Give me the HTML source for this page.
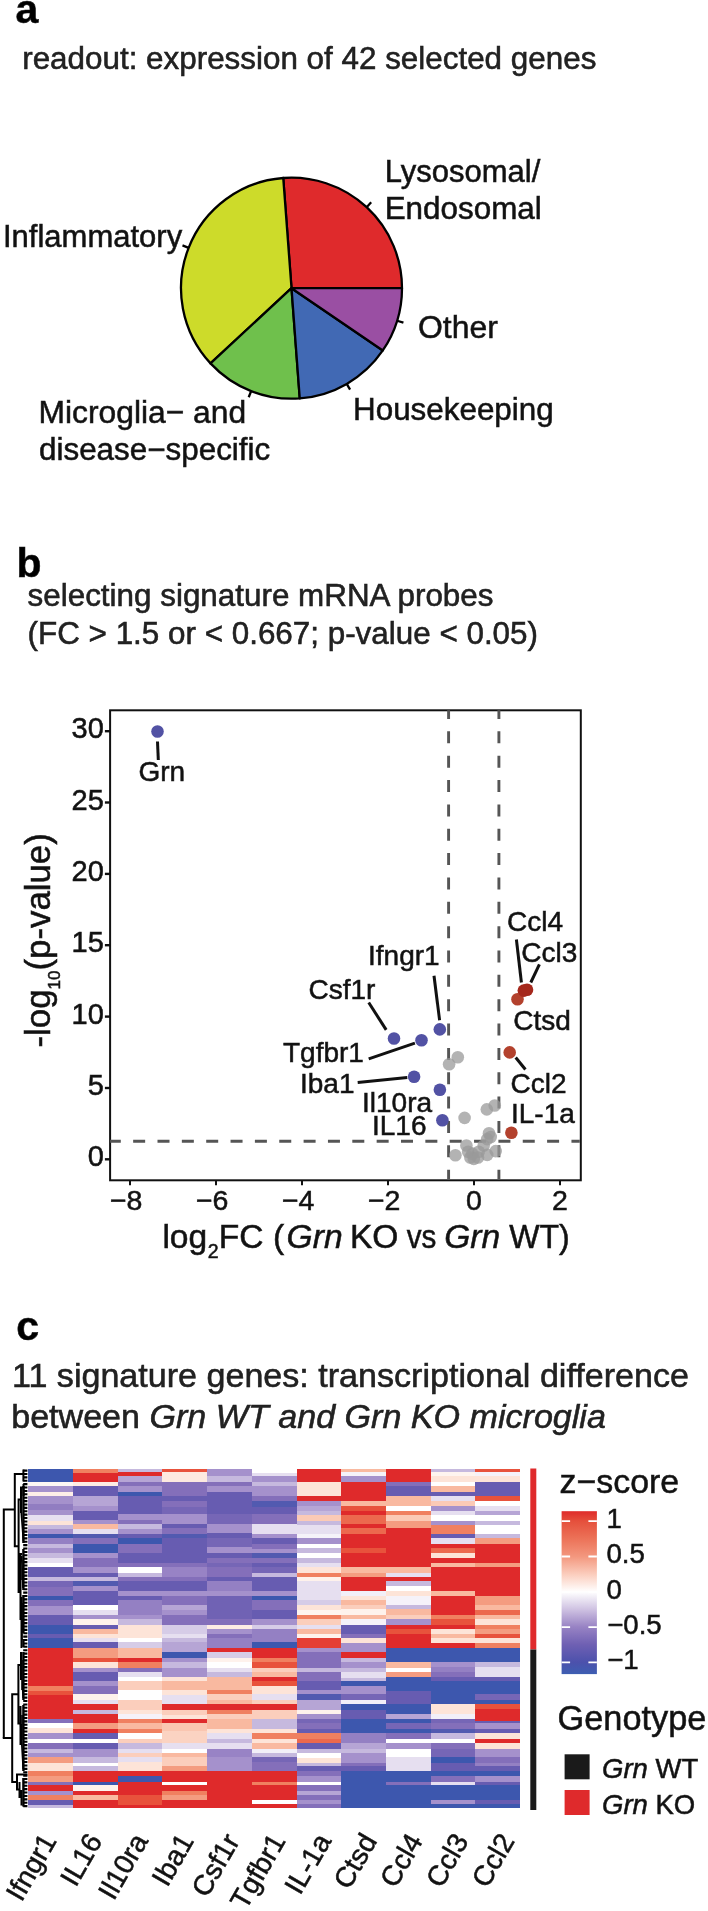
<!DOCTYPE html>
<html><head><meta charset="utf-8"><title>Figure</title>
<style>
html,body{margin:0;padding:0;background:#fff;}
body{width:708px;height:1911px;overflow:hidden;font-family:"Liberation Sans",sans-serif;}
svg{display:block;filter:blur(0.45px);}
svg text{font-family:"Liberation Sans",sans-serif;stroke:#1a1a1a;stroke-width:0.55px;}
</style></head><body>
<svg width="708" height="1911" viewBox="0 0 708 1911">
<rect width="708" height="1911" fill="#fff"/>
<text x="15.5" y="23.3" font-size="41" font-weight="bold" fill="#000" >a</text>
<text x="22.2" y="68.8" font-size="31.4" fill="#222222" >readout: expression of 42 selected genes</text>
<text x="16.5" y="576.5" font-size="41" font-weight="bold" fill="#000" >b</text>
<text x="27.6" y="606.3" font-size="31.4" fill="#222222" >selecting signature mRNA probes</text>
<text x="27.6" y="643.8" font-size="31.4" fill="#222222" >(FC &gt; 1.5 or &lt; 0.667; p-value &lt; 0.05)</text>
<text x="16.3" y="1339.5" font-size="41" font-weight="bold" fill="#000" >c</text>
<text x="12" y="1386.7" font-size="34.1" fill="#222222" >11 signature genes: transcriptional difference</text>
<text x="11.2" y="1428.3" font-size="34.1" fill="#222222" >between <tspan font-style="italic">Grn WT and Grn KO microglia</tspan></text>
<g stroke="#000" stroke-width="2.3" stroke-linejoin="round">
<path d="M291.5,288.2 L402.00,288.20 A110.5,110.5 0 0 0 283.24,178.01 Z" fill="#df2a2c"/>
<path d="M291.5,288.2 L283.24,178.01 A110.5,110.5 0 0 0 210.50,363.36 Z" fill="#cddb2a"/>
<path d="M291.5,288.2 L210.50,363.36 A110.5,110.5 0 0 0 299.76,398.39 Z" fill="#6fc04c"/>
<path d="M291.5,288.2 L299.76,398.39 A110.5,110.5 0 0 0 382.80,350.45 Z" fill="#4169b4"/>
<path d="M291.5,288.2 L382.80,350.45 A110.5,110.5 0 0 0 402.00,288.20 Z" fill="#9a4fa3"/>
<path d="M366.66,207.20 L371.17,202.34" fill="none"/>
<path d="M188.64,247.83 L182.47,245.41" fill="none"/>
<path d="M251.13,391.06 L248.71,397.23" fill="none"/>
<path d="M346.75,383.90 L350.07,389.64" fill="none"/>
<path d="M397.09,320.77 L403.43,322.72" fill="none"/>
</g>
<text x="384.7" y="182.4" font-size="31" fill="#111" >Lysosomal/</text>
<text x="384.7" y="219.2" font-size="31.4" fill="#111" >Endosomal</text>
<text x="3" y="246.6" font-size="31" fill="#111" >Inflammatory</text>
<text x="418" y="338.3" font-size="31.9" fill="#111" >Other</text>
<text x="353" y="419.7" font-size="31.4" fill="#111" >Housekeeping</text>
<text x="38.5" y="423.3" font-size="31.8" fill="#111" >Microglia− and</text>
<text x="39" y="460.2" font-size="31.4" fill="#111" >disease−specific</text>
<rect x="110.1" y="710.3" width="470.69999999999993" height="470.0" fill="#fff" stroke="#111" stroke-width="2"/>
<g stroke="#555555" stroke-width="2.9" stroke-dasharray="12,12.35" fill="none">
<path stroke-dashoffset="3.3" d="M448.6,710.3 V1179.3"/>
<path stroke-dashoffset="3.3" d="M498.9,710.3 V1179.3"/>
<path stroke-dashoffset="1.3" d="M110.1,1141.2 H579.8"/>
</g>
<g stroke="#111" stroke-width="2" fill="none">
<path stroke-width="2.4" d="M104.89999999999999,1159.3 H110.1"/>
<path stroke-width="2.4" d="M104.89999999999999,1088.0 H110.1"/>
<path stroke-width="2.4" d="M104.89999999999999,1016.6 H110.1"/>
<path stroke-width="2.4" d="M104.89999999999999,945.2 H110.1"/>
<path stroke-width="2.4" d="M104.89999999999999,873.9 H110.1"/>
<path stroke-width="2.4" d="M104.89999999999999,802.5 H110.1"/>
<path stroke-width="2.4" d="M104.89999999999999,731.2 H110.1"/>
<path d="M130.0,1180.3 V1185.3"/>
<path d="M216.0,1180.3 V1185.3"/>
<path d="M302.0,1180.3 V1185.3"/>
<path d="M388.0,1180.3 V1185.3"/>
<path d="M474.0,1180.3 V1185.3"/>
<path d="M560.0,1180.3 V1185.3"/>
</g>
<text x="103.8" y="1166.3" font-size="29" text-anchor="end" fill="#111" >0</text>
<text x="103.8" y="1094.95" font-size="29" text-anchor="end" fill="#111" >5</text>
<text x="103.8" y="1023.5999999999999" font-size="29" text-anchor="end" fill="#111" >10</text>
<text x="103.8" y="952.25" font-size="29" text-anchor="end" fill="#111" >15</text>
<text x="103.8" y="880.9" font-size="29" text-anchor="end" fill="#111" >20</text>
<text x="103.8" y="809.55" font-size="29" text-anchor="end" fill="#111" >25</text>
<text x="103.8" y="738.2" font-size="29" text-anchor="end" fill="#111" >30</text>
<text x="126.2" y="1209.8" font-size="28.5" text-anchor="middle" fill="#111" >−8</text>
<text x="212.2" y="1209.8" font-size="28.5" text-anchor="middle" fill="#111" >−6</text>
<text x="298.2" y="1209.8" font-size="28.5" text-anchor="middle" fill="#111" >−4</text>
<text x="384.2" y="1209.8" font-size="28.5" text-anchor="middle" fill="#111" >−2</text>
<text x="474.0" y="1209.8" font-size="28.5" text-anchor="middle" fill="#111" >0</text>
<text x="560.0" y="1209.8" font-size="28.5" text-anchor="middle" fill="#111" >2</text>
<text x="162.4" y="1248" font-size="33.6" fill="#111" >log</text>
<text x="207.8" y="1258.2" font-size="19.5" fill="#111" >2</text>
<text x="218.8" y="1248" font-size="33.6" fill="#111" >FC (</text>
<text x="286.6" y="1248" font-size="33.6" font-style="italic" fill="#111" >Grn</text>
<text x="349.9" y="1248" font-size="33.6" fill="#111" >KO</text>
<text x="406.8" y="1248" font-size="33.6" fill="#111" textLength="29.6" lengthAdjust="spacingAndGlyphs">vs</text>
<text x="444.2" y="1248" font-size="33.6" font-style="italic" fill="#111" >Grn</text>
<text x="509.2" y="1248" font-size="33.6" fill="#111" textLength="60.6" lengthAdjust="spacingAndGlyphs">WT)</text>
<text transform="translate(49.7,1047.5) rotate(-90)" font-size="34.8" fill="#111">-log<tspan font-size="17" dy="10.5">10</tspan><tspan dy="-10.5">(p-value)</tspan></text>
<g fill="#9a9a9a" fill-opacity="0.75">
<circle cx="449.1" cy="1064.2" r="6.3"/>
<circle cx="457.8" cy="1057.3" r="6.3"/>
<circle cx="464.6" cy="1117.9" r="6.3"/>
<circle cx="486.8" cy="1109.4" r="6.3"/>
<circle cx="494.7" cy="1105.5" r="6.3"/>
<circle cx="489" cy="1133.2" r="6.3"/>
<circle cx="487.2" cy="1139.1" r="6.3"/>
<circle cx="483.7" cy="1145.5" r="6.3"/>
<circle cx="466.4" cy="1145.5" r="6.3"/>
<circle cx="455.4" cy="1155.3" r="6.3"/>
<circle cx="495.7" cy="1151.1" r="6.3"/>
<circle cx="487.2" cy="1154.9" r="6.3"/>
<circle cx="478.7" cy="1151.8" r="6.3"/>
<circle cx="472.4" cy="1153.9" r="6.3"/>
<circle cx="468.1" cy="1151.8" r="6.3"/>
<circle cx="473.8" cy="1158.9" r="6.3"/>
<circle cx="470.3" cy="1157.5" r="6.3"/>
<circle cx="478" cy="1157.5" r="6.3"/>
<circle cx="490.7" cy="1137" r="6.3"/>
</g>
<g fill="#5252a4">
<circle cx="157.5" cy="731.5" r="6.3"/>
<circle cx="439.8" cy="1029.4" r="6.3"/>
<circle cx="394" cy="1038.5" r="6.3"/>
<circle cx="421.5" cy="1040.2" r="6.3"/>
<circle cx="414.1" cy="1076.7" r="6.3"/>
<circle cx="439.9" cy="1089.7" r="6.3"/>
<circle cx="442.4" cy="1120.2" r="6.3"/>
</g>
<g fill="#b3412d">
<circle cx="517.5" cy="999.3" r="6.3"/>
<circle cx="509.7" cy="1052.4" r="6.3"/>
<circle cx="511.4" cy="1132.8" r="6.3"/>
</g>
<g fill="#a5281c"><circle cx="523.8" cy="990.6" r="6.3"/><circle cx="527" cy="989.8" r="6.3"/></g>
<g stroke="#111" stroke-width="3" fill="none" stroke-linecap="butt">
<path d="M157.5,741.5 L158.3,760"/>
<path d="M434,975.8 L439.6,1020.3"/>
<path d="M368.7,1002.5 L386.2,1029.9"/>
<path d="M368.7,1058.9 L414.9,1043.1"/>
<path d="M357.7,1082.6 L407.3,1077.5"/>
<path d="M516.4,939.5 L521.4,982.5"/>
<path d="M539.4,964.4 L530.8,982.5"/>
<path d="M515.7,1057.5 L525.4,1069.5"/>
</g>
<text x="138.5" y="780.7" font-size="28" fill="#111" >Grn</text>
<text x="368" y="964.8" font-size="28" fill="#111" >Ifngr1</text>
<text x="308.5" y="998.8" font-size="28" fill="#111" >Csf1r</text>
<text x="283" y="1061.7" font-size="28" fill="#111" >Tgfbr1</text>
<text x="300" y="1093" font-size="28" fill="#111" >Iba1</text>
<text x="362" y="1112" font-size="28" fill="#111" >Il10ra</text>
<text x="372" y="1135" font-size="28" fill="#111" >IL16</text>
<text x="507.1" y="931.4" font-size="28" fill="#111" >Ccl4</text>
<text x="521.2" y="962.3" font-size="28" fill="#111" >Ccl3</text>
<text x="513.2" y="1029.7" font-size="28" fill="#111" >Ctsd</text>
<text x="510.5" y="1093" font-size="28" fill="#111" >Ccl2</text>
<text x="511" y="1122.8" font-size="28" fill="#111" >IL-1a</text>
<g shape-rendering="crispEdges">
<rect x="28.30" y="1468.94" width="45.10" height="13.65" fill="#3d57ae"/>
<rect x="28.30" y="1482.19" width="45.10" height="3.96" fill="#fef7f3"/>
<rect x="28.30" y="1485.75" width="45.10" height="6.33" fill="#a591cc"/>
<rect x="28.30" y="1491.68" width="45.10" height="4.35" fill="#feefe8"/>
<rect x="28.30" y="1495.64" width="45.10" height="8.31" fill="#a591cc"/>
<rect x="28.30" y="1503.55" width="45.10" height="7.32" fill="#917dc1"/>
<rect x="28.30" y="1510.47" width="45.10" height="4.95" fill="#a591cc"/>
<rect x="28.30" y="1515.02" width="45.10" height="6.33" fill="#e6dff0"/>
<rect x="28.30" y="1520.95" width="45.10" height="4.35" fill="#fde4d8"/>
<rect x="28.30" y="1524.90" width="45.10" height="4.75" fill="#c6b9de"/>
<rect x="28.30" y="1529.25" width="45.10" height="5.34" fill="#a591cc"/>
<rect x="28.30" y="1534.20" width="45.10" height="4.35" fill="#3d57ae"/>
<rect x="28.30" y="1538.15" width="45.10" height="6.33" fill="#9480c3"/>
<rect x="28.30" y="1544.08" width="45.10" height="4.35" fill="#c6b9de"/>
<rect x="28.30" y="1548.04" width="45.10" height="1.36" fill="#a591cc"/>
<rect x="28.30" y="1549.00" width="45.10" height="4.75" fill="#a591cc"/>
<rect x="28.30" y="1553.35" width="45.10" height="4.95" fill="#c6b9de"/>
<rect x="28.30" y="1557.90" width="45.10" height="5.34" fill="#e6dff0"/>
<rect x="28.30" y="1562.84" width="45.10" height="4.75" fill="#ffffff"/>
<rect x="28.30" y="1567.19" width="45.10" height="9.89" fill="#675cb1"/>
<rect x="28.30" y="1576.68" width="45.10" height="4.35" fill="#c6b9de"/>
<rect x="28.30" y="1580.64" width="45.10" height="6.33" fill="#7666b6"/>
<rect x="28.30" y="1586.57" width="45.10" height="9.89" fill="#846fba"/>
<rect x="28.30" y="1596.06" width="45.10" height="4.35" fill="#3d57ae"/>
<rect x="28.30" y="1600.02" width="45.10" height="6.33" fill="#846fba"/>
<rect x="28.30" y="1605.95" width="45.10" height="9.69" fill="#a591cc"/>
<rect x="28.30" y="1615.24" width="45.10" height="10.29" fill="#675cb1"/>
<rect x="28.30" y="1625.13" width="45.10" height="9.27" fill="#3d57ae"/>
<rect x="28.30" y="1634.00" width="45.10" height="4.75" fill="#675cb1"/>
<rect x="28.30" y="1638.35" width="45.10" height="9.89" fill="#3d57ae"/>
<rect x="28.30" y="1647.84" width="45.10" height="38.96" fill="#df2a2b"/>
<rect x="28.30" y="1686.40" width="45.10" height="4.95" fill="#f08060"/>
<rect x="28.30" y="1690.95" width="45.10" height="4.35" fill="#e8523c"/>
<rect x="28.30" y="1694.90" width="45.10" height="24.50" fill="#df2a2b"/>
<rect x="28.30" y="1719.00" width="45.10" height="4.75" fill="#846fba"/>
<rect x="28.30" y="1723.35" width="45.10" height="4.95" fill="#ffffff"/>
<rect x="28.30" y="1727.90" width="45.10" height="5.34" fill="#fde4d8"/>
<rect x="28.30" y="1732.84" width="45.10" height="6.33" fill="#a591cc"/>
<rect x="28.30" y="1738.77" width="45.10" height="4.75" fill="#ffffff"/>
<rect x="28.30" y="1743.12" width="45.10" height="5.94" fill="#846fba"/>
<rect x="28.30" y="1748.66" width="45.10" height="4.35" fill="#c6b9de"/>
<rect x="28.30" y="1752.62" width="45.10" height="4.35" fill="#a591cc"/>
<rect x="28.30" y="1756.57" width="45.10" height="6.33" fill="#f49c80"/>
<rect x="28.30" y="1762.50" width="45.10" height="9.30" fill="#fde4d8"/>
<rect x="28.30" y="1771.40" width="45.10" height="5.34" fill="#f08060"/>
<rect x="28.30" y="1776.34" width="45.10" height="5.94" fill="#f49c80"/>
<rect x="28.30" y="1781.88" width="45.10" height="3.76" fill="#846fba"/>
<rect x="28.30" y="1785.24" width="45.10" height="6.33" fill="#df2a2b"/>
<rect x="28.30" y="1791.18" width="45.10" height="4.35" fill="#a591cc"/>
<rect x="28.30" y="1795.13" width="45.10" height="5.74" fill="#f08060"/>
<rect x="28.30" y="1800.47" width="45.10" height="4.95" fill="#675cb1"/>
<rect x="28.30" y="1805.02" width="45.10" height="3.18" fill="#c6b9de"/>
<rect x="73.00" y="1468.94" width="45.10" height="4.35" fill="#f08060"/>
<rect x="73.00" y="1472.90" width="45.10" height="9.69" fill="#df2a2b"/>
<rect x="73.00" y="1482.19" width="45.10" height="3.96" fill="#feece4"/>
<rect x="73.00" y="1485.75" width="45.10" height="10.29" fill="#675cb1"/>
<rect x="73.00" y="1495.64" width="45.10" height="10.29" fill="#b6a5d5"/>
<rect x="73.00" y="1505.53" width="45.10" height="6.33" fill="#a591cc"/>
<rect x="73.00" y="1511.46" width="45.10" height="9.30" fill="#675cb1"/>
<rect x="73.00" y="1520.36" width="45.10" height="4.35" fill="#a591cc"/>
<rect x="73.00" y="1524.31" width="45.10" height="4.95" fill="#f9b9a0"/>
<rect x="73.00" y="1528.86" width="45.10" height="5.74" fill="#e6dff0"/>
<rect x="73.00" y="1534.20" width="45.10" height="4.35" fill="#525ab0"/>
<rect x="73.00" y="1538.15" width="45.10" height="6.33" fill="#846fba"/>
<rect x="73.00" y="1544.08" width="45.10" height="5.32" fill="#3d57ae"/>
<rect x="73.00" y="1549.00" width="45.10" height="4.75" fill="#3d57ae"/>
<rect x="73.00" y="1553.35" width="45.10" height="4.95" fill="#a591cc"/>
<rect x="73.00" y="1557.90" width="45.10" height="9.69" fill="#846fba"/>
<rect x="73.00" y="1567.19" width="45.10" height="5.94" fill="#a591cc"/>
<rect x="73.00" y="1572.73" width="45.10" height="4.35" fill="#675cb1"/>
<rect x="73.00" y="1576.68" width="45.10" height="4.35" fill="#c6b9de"/>
<rect x="73.00" y="1580.64" width="45.10" height="5.94" fill="#525ab0"/>
<rect x="73.00" y="1586.18" width="45.10" height="4.75" fill="#a591cc"/>
<rect x="73.00" y="1590.53" width="45.10" height="15.23" fill="#675cb1"/>
<rect x="73.00" y="1605.36" width="45.10" height="5.34" fill="#ffffff"/>
<rect x="73.00" y="1610.30" width="45.10" height="5.34" fill="#e6dff0"/>
<rect x="73.00" y="1615.24" width="45.10" height="4.35" fill="#a591cc"/>
<rect x="73.00" y="1619.20" width="45.10" height="6.33" fill="#fef2ec"/>
<rect x="73.00" y="1625.13" width="45.10" height="4.35" fill="#675cb1"/>
<rect x="73.00" y="1629.08" width="45.10" height="5.32" fill="#f9b9a0"/>
<rect x="73.00" y="1634.00" width="45.10" height="3.96" fill="#fde4d8"/>
<rect x="73.00" y="1637.56" width="45.10" height="5.15" fill="#e6dff0"/>
<rect x="73.00" y="1642.31" width="45.10" height="5.94" fill="#675cb1"/>
<rect x="73.00" y="1647.84" width="45.10" height="10.29" fill="#f49c80"/>
<rect x="73.00" y="1657.73" width="45.10" height="4.35" fill="#e8523c"/>
<rect x="73.00" y="1661.68" width="45.10" height="6.33" fill="#fde4d8"/>
<rect x="73.00" y="1667.62" width="45.10" height="4.35" fill="#a591cc"/>
<rect x="73.00" y="1671.57" width="45.10" height="9.89" fill="#675cb1"/>
<rect x="73.00" y="1681.06" width="45.10" height="5.74" fill="#a591cc"/>
<rect x="73.00" y="1686.40" width="45.10" height="8.31" fill="#846fba"/>
<rect x="73.00" y="1694.31" width="45.10" height="6.33" fill="#fef2ec"/>
<rect x="73.00" y="1700.24" width="45.10" height="4.35" fill="#e6dff0"/>
<rect x="73.00" y="1704.20" width="45.10" height="6.33" fill="#df2a2b"/>
<rect x="73.00" y="1710.13" width="45.10" height="4.35" fill="#c6b9de"/>
<rect x="73.00" y="1714.08" width="45.10" height="5.32" fill="#df2a2b"/>
<rect x="73.00" y="1719.00" width="45.10" height="4.75" fill="#df2a2b"/>
<rect x="73.00" y="1723.35" width="45.10" height="6.33" fill="#f49c80"/>
<rect x="73.00" y="1729.28" width="45.10" height="4.35" fill="#df2a2b"/>
<rect x="73.00" y="1733.24" width="45.10" height="5.94" fill="#675cb1"/>
<rect x="73.00" y="1738.77" width="45.10" height="4.75" fill="#ffffff"/>
<rect x="73.00" y="1743.12" width="45.10" height="5.94" fill="#675cb1"/>
<rect x="73.00" y="1748.66" width="45.10" height="8.31" fill="#a591cc"/>
<rect x="73.00" y="1756.57" width="45.10" height="6.33" fill="#c6b9de"/>
<rect x="73.00" y="1762.50" width="45.10" height="4.35" fill="#ffffff"/>
<rect x="73.00" y="1766.46" width="45.10" height="5.34" fill="#c6b9de"/>
<rect x="73.00" y="1771.40" width="45.10" height="10.88" fill="#df2a2b"/>
<rect x="73.00" y="1781.88" width="45.10" height="3.76" fill="#3d57ae"/>
<rect x="73.00" y="1785.24" width="45.10" height="6.33" fill="#fef2ec"/>
<rect x="73.00" y="1791.18" width="45.10" height="4.35" fill="#df2a2b"/>
<rect x="73.00" y="1795.13" width="45.10" height="5.74" fill="#f9b9a0"/>
<rect x="73.00" y="1800.47" width="45.10" height="7.73" fill="#df2a2b"/>
<rect x="117.70" y="1468.94" width="45.10" height="3.76" fill="#c6b9de"/>
<rect x="117.70" y="1472.31" width="45.10" height="3.96" fill="#df2a2b"/>
<rect x="117.70" y="1475.86" width="45.10" height="6.73" fill="#b6a5d5"/>
<rect x="117.70" y="1482.19" width="45.10" height="3.96" fill="#846fba"/>
<rect x="117.70" y="1485.75" width="45.10" height="6.33" fill="#a591cc"/>
<rect x="117.70" y="1491.68" width="45.10" height="4.35" fill="#3d57ae"/>
<rect x="117.70" y="1495.64" width="45.10" height="19.19" fill="#675cb1"/>
<rect x="117.70" y="1514.42" width="45.10" height="6.33" fill="#a591cc"/>
<rect x="117.70" y="1520.36" width="45.10" height="4.35" fill="#846fba"/>
<rect x="117.70" y="1524.31" width="45.10" height="5.34" fill="#c6b9de"/>
<rect x="117.70" y="1529.25" width="45.10" height="5.34" fill="#a591cc"/>
<rect x="117.70" y="1534.20" width="45.10" height="4.35" fill="#675cb1"/>
<rect x="117.70" y="1538.15" width="45.10" height="6.33" fill="#3d57ae"/>
<rect x="117.70" y="1544.08" width="45.10" height="5.32" fill="#846fba"/>
<rect x="117.70" y="1549.00" width="45.10" height="4.75" fill="#846fba"/>
<rect x="117.70" y="1553.35" width="45.10" height="9.89" fill="#675cb1"/>
<rect x="117.70" y="1562.84" width="45.10" height="4.75" fill="#846fba"/>
<rect x="117.70" y="1567.19" width="45.10" height="5.94" fill="#ffffff"/>
<rect x="117.70" y="1572.73" width="45.10" height="4.35" fill="#c6b9de"/>
<rect x="117.70" y="1576.68" width="45.10" height="4.35" fill="#846fba"/>
<rect x="117.70" y="1580.64" width="45.10" height="10.29" fill="#675cb1"/>
<rect x="117.70" y="1590.53" width="45.10" height="6.33" fill="#a591cc"/>
<rect x="117.70" y="1596.46" width="45.10" height="3.96" fill="#675cb1"/>
<rect x="117.70" y="1600.02" width="45.10" height="6.33" fill="#9480c3"/>
<rect x="117.70" y="1605.95" width="45.10" height="9.69" fill="#9480c3"/>
<rect x="117.70" y="1615.24" width="45.10" height="4.35" fill="#a591cc"/>
<rect x="117.70" y="1619.20" width="45.10" height="6.33" fill="#c6b9de"/>
<rect x="117.70" y="1625.13" width="45.10" height="9.27" fill="#fde4d8"/>
<rect x="117.70" y="1634.00" width="45.10" height="3.96" fill="#fde4d8"/>
<rect x="117.70" y="1637.56" width="45.10" height="5.15" fill="#ffffff"/>
<rect x="117.70" y="1642.31" width="45.10" height="5.94" fill="#d6cce7"/>
<rect x="117.70" y="1647.84" width="45.10" height="10.29" fill="#f9b9a0"/>
<rect x="117.70" y="1657.73" width="45.10" height="4.35" fill="#df2a2b"/>
<rect x="117.70" y="1661.68" width="45.10" height="6.33" fill="#f08060"/>
<rect x="117.70" y="1667.62" width="45.10" height="4.35" fill="#846fba"/>
<rect x="117.70" y="1671.57" width="45.10" height="5.34" fill="#e6dff0"/>
<rect x="117.70" y="1676.51" width="45.10" height="4.95" fill="#ffffff"/>
<rect x="117.70" y="1681.06" width="45.10" height="9.69" fill="#fbcebc"/>
<rect x="117.70" y="1690.36" width="45.10" height="10.29" fill="#ffffff"/>
<rect x="117.70" y="1700.24" width="45.10" height="10.29" fill="#fbcebc"/>
<rect x="117.70" y="1710.13" width="45.10" height="4.35" fill="#fde4d8"/>
<rect x="117.70" y="1714.08" width="45.10" height="5.32" fill="#f5f2f9"/>
<rect x="117.70" y="1719.00" width="45.10" height="4.75" fill="#f08060"/>
<rect x="117.70" y="1723.35" width="45.10" height="5.94" fill="#f9b9a0"/>
<rect x="117.70" y="1728.89" width="45.10" height="4.75" fill="#f08060"/>
<rect x="117.70" y="1733.24" width="45.10" height="5.94" fill="#ffffff"/>
<rect x="117.70" y="1738.77" width="45.10" height="4.75" fill="#fbcebc"/>
<rect x="117.70" y="1743.12" width="45.10" height="5.94" fill="#c6b9de"/>
<rect x="117.70" y="1748.66" width="45.10" height="4.35" fill="#e6dff0"/>
<rect x="117.70" y="1752.62" width="45.10" height="4.35" fill="#fbcebc"/>
<rect x="117.70" y="1756.57" width="45.10" height="5.34" fill="#e6dff0"/>
<rect x="117.70" y="1761.51" width="45.10" height="10.29" fill="#fde4d8"/>
<rect x="117.70" y="1771.40" width="45.10" height="5.34" fill="#df2a2b"/>
<rect x="117.70" y="1776.34" width="45.10" height="5.94" fill="#3d57ae"/>
<rect x="117.70" y="1781.88" width="45.10" height="13.65" fill="#df2a2b"/>
<rect x="117.70" y="1795.13" width="45.10" height="10.29" fill="#e8523c"/>
<rect x="117.70" y="1805.02" width="45.10" height="3.18" fill="#df2a2b"/>
<rect x="162.40" y="1468.94" width="45.10" height="3.76" fill="#e8523c"/>
<rect x="162.40" y="1472.31" width="45.10" height="10.29" fill="#fde9e0"/>
<rect x="162.40" y="1482.19" width="45.10" height="13.85" fill="#846fba"/>
<rect x="162.40" y="1495.64" width="45.10" height="5.34" fill="#675cb1"/>
<rect x="162.40" y="1500.58" width="45.10" height="6.33" fill="#846fba"/>
<rect x="162.40" y="1506.51" width="45.10" height="8.31" fill="#7666b6"/>
<rect x="162.40" y="1514.42" width="45.10" height="10.29" fill="#a591cc"/>
<rect x="162.40" y="1524.31" width="45.10" height="4.35" fill="#675cb1"/>
<rect x="162.40" y="1528.27" width="45.10" height="6.33" fill="#846fba"/>
<rect x="162.40" y="1534.20" width="45.10" height="4.35" fill="#525ab0"/>
<rect x="162.40" y="1538.15" width="45.10" height="11.25" fill="#675cb1"/>
<rect x="162.40" y="1549.00" width="45.10" height="14.24" fill="#675cb1"/>
<rect x="162.40" y="1562.84" width="45.10" height="4.75" fill="#846fba"/>
<rect x="162.40" y="1567.19" width="45.10" height="9.89" fill="#9883c5"/>
<rect x="162.40" y="1576.68" width="45.10" height="4.35" fill="#846fba"/>
<rect x="162.40" y="1580.64" width="45.10" height="10.29" fill="#675cb1"/>
<rect x="162.40" y="1590.53" width="45.10" height="6.33" fill="#a591cc"/>
<rect x="162.40" y="1596.46" width="45.10" height="9.30" fill="#846fba"/>
<rect x="162.40" y="1605.36" width="45.10" height="5.34" fill="#b6a5d5"/>
<rect x="162.40" y="1610.30" width="45.10" height="5.34" fill="#a591cc"/>
<rect x="162.40" y="1615.24" width="45.10" height="10.29" fill="#846fba"/>
<rect x="162.40" y="1625.13" width="45.10" height="9.27" fill="#d6cce7"/>
<rect x="162.40" y="1634.00" width="45.10" height="4.75" fill="#e6dff0"/>
<rect x="162.40" y="1638.35" width="45.10" height="4.35" fill="#c6b9de"/>
<rect x="162.40" y="1642.31" width="45.10" height="9.89" fill="#b6a5d5"/>
<rect x="162.40" y="1651.80" width="45.10" height="6.33" fill="#3d57ae"/>
<rect x="162.40" y="1657.73" width="45.10" height="4.35" fill="#a591cc"/>
<rect x="162.40" y="1661.68" width="45.10" height="6.33" fill="#c6b9de"/>
<rect x="162.40" y="1667.62" width="45.10" height="9.30" fill="#a591cc"/>
<rect x="162.40" y="1676.51" width="45.10" height="5.34" fill="#fde4d8"/>
<rect x="162.40" y="1681.46" width="45.10" height="9.30" fill="#f9b9a0"/>
<rect x="162.40" y="1690.36" width="45.10" height="5.34" fill="#fde4d8"/>
<rect x="162.40" y="1695.30" width="45.10" height="9.30" fill="#e6dff0"/>
<rect x="162.40" y="1704.20" width="45.10" height="6.33" fill="#df2a2b"/>
<rect x="162.40" y="1710.13" width="45.10" height="5.34" fill="#fbcebc"/>
<rect x="162.40" y="1715.07" width="45.10" height="4.33" fill="#fde4d8"/>
<rect x="162.40" y="1719.00" width="45.10" height="4.75" fill="#df2a2b"/>
<rect x="162.40" y="1723.35" width="45.10" height="7.91" fill="#fac6b1"/>
<rect x="162.40" y="1730.86" width="45.10" height="12.26" fill="#fbd3c2"/>
<rect x="162.40" y="1742.73" width="45.10" height="6.33" fill="#e6dff0"/>
<rect x="162.40" y="1748.66" width="45.10" height="4.35" fill="#ffffff"/>
<rect x="162.40" y="1752.62" width="45.10" height="4.35" fill="#f9b9a0"/>
<rect x="162.40" y="1756.57" width="45.10" height="10.29" fill="#fbcebc"/>
<rect x="162.40" y="1766.46" width="45.10" height="5.34" fill="#f49c80"/>
<rect x="162.40" y="1771.40" width="45.10" height="10.88" fill="#df2a2b"/>
<rect x="162.40" y="1781.88" width="45.10" height="3.76" fill="#ffffff"/>
<rect x="162.40" y="1785.24" width="45.10" height="6.33" fill="#df2a2b"/>
<rect x="162.40" y="1791.18" width="45.10" height="4.35" fill="#f08060"/>
<rect x="162.40" y="1795.13" width="45.10" height="5.74" fill="#f49c80"/>
<rect x="162.40" y="1800.47" width="45.10" height="7.73" fill="#df2a2b"/>
<rect x="207.10" y="1468.94" width="45.10" height="7.32" fill="#a591cc"/>
<rect x="207.10" y="1475.86" width="45.10" height="6.73" fill="#c6b9de"/>
<rect x="207.10" y="1482.19" width="45.10" height="3.96" fill="#846fba"/>
<rect x="207.10" y="1485.75" width="45.10" height="6.33" fill="#a591cc"/>
<rect x="207.10" y="1491.68" width="45.10" height="4.35" fill="#675cb1"/>
<rect x="207.10" y="1495.64" width="45.10" height="19.19" fill="#675cb1"/>
<rect x="207.10" y="1514.42" width="45.10" height="10.29" fill="#7666b6"/>
<rect x="207.10" y="1524.31" width="45.10" height="9.30" fill="#a591cc"/>
<rect x="207.10" y="1533.21" width="45.10" height="5.34" fill="#675cb1"/>
<rect x="207.10" y="1538.15" width="45.10" height="9.30" fill="#7666b6"/>
<rect x="207.10" y="1547.05" width="45.10" height="2.35" fill="#a591cc"/>
<rect x="207.10" y="1549.00" width="45.10" height="4.75" fill="#a591cc"/>
<rect x="207.10" y="1553.35" width="45.10" height="4.95" fill="#675cb1"/>
<rect x="207.10" y="1557.90" width="45.10" height="5.34" fill="#846fba"/>
<rect x="207.10" y="1562.84" width="45.10" height="4.75" fill="#7666b6"/>
<rect x="207.10" y="1567.19" width="45.10" height="9.89" fill="#846fba"/>
<rect x="207.10" y="1576.68" width="45.10" height="4.35" fill="#675cb1"/>
<rect x="207.10" y="1580.64" width="45.10" height="10.29" fill="#9480c3"/>
<rect x="207.10" y="1590.53" width="45.10" height="6.33" fill="#a591cc"/>
<rect x="207.10" y="1596.46" width="45.10" height="23.14" fill="#7062b4"/>
<rect x="207.10" y="1619.20" width="45.10" height="6.33" fill="#846fba"/>
<rect x="207.10" y="1625.13" width="45.10" height="4.35" fill="#feece4"/>
<rect x="207.10" y="1629.08" width="45.10" height="5.32" fill="#a591cc"/>
<rect x="207.10" y="1634.00" width="45.10" height="4.75" fill="#846fba"/>
<rect x="207.10" y="1638.35" width="45.10" height="9.89" fill="#9480c3"/>
<rect x="207.10" y="1647.84" width="45.10" height="4.35" fill="#df2a2b"/>
<rect x="207.10" y="1651.80" width="45.10" height="6.33" fill="#d6cce7"/>
<rect x="207.10" y="1657.73" width="45.10" height="4.35" fill="#fef2ec"/>
<rect x="207.10" y="1661.68" width="45.10" height="6.33" fill="#ffffff"/>
<rect x="207.10" y="1667.62" width="45.10" height="4.35" fill="#e6dff0"/>
<rect x="207.10" y="1671.57" width="45.10" height="5.34" fill="#c6b9de"/>
<rect x="207.10" y="1676.51" width="45.10" height="14.24" fill="#f9b9a0"/>
<rect x="207.10" y="1690.36" width="45.10" height="4.35" fill="#f08060"/>
<rect x="207.10" y="1694.31" width="45.10" height="6.33" fill="#fbcebc"/>
<rect x="207.10" y="1700.24" width="45.10" height="4.35" fill="#f9b9a0"/>
<rect x="207.10" y="1704.20" width="45.10" height="6.33" fill="#df2a2b"/>
<rect x="207.10" y="1710.13" width="45.10" height="4.35" fill="#f08060"/>
<rect x="207.10" y="1714.08" width="45.10" height="5.32" fill="#fbcebc"/>
<rect x="207.10" y="1719.00" width="45.10" height="4.75" fill="#f9b9a0"/>
<rect x="207.10" y="1723.35" width="45.10" height="5.94" fill="#f9b9a0"/>
<rect x="207.10" y="1728.89" width="45.10" height="4.75" fill="#fde4d8"/>
<rect x="207.10" y="1733.24" width="45.10" height="5.94" fill="#e6dff0"/>
<rect x="207.10" y="1738.77" width="45.10" height="4.75" fill="#c6b9de"/>
<rect x="207.10" y="1743.12" width="45.10" height="5.94" fill="#e6dff0"/>
<rect x="207.10" y="1748.66" width="45.10" height="8.31" fill="#9883c5"/>
<rect x="207.10" y="1756.57" width="45.10" height="5.34" fill="#a591cc"/>
<rect x="207.10" y="1761.51" width="45.10" height="10.29" fill="#a591cc"/>
<rect x="207.10" y="1771.40" width="45.10" height="36.80" fill="#df2a2b"/>
<rect x="251.80" y="1468.94" width="45.10" height="4.35" fill="#ffffff"/>
<rect x="251.80" y="1472.90" width="45.10" height="3.37" fill="#e6dff0"/>
<rect x="251.80" y="1475.86" width="45.10" height="6.73" fill="#a591cc"/>
<rect x="251.80" y="1482.19" width="45.10" height="3.96" fill="#c6b9de"/>
<rect x="251.80" y="1485.75" width="45.10" height="10.29" fill="#a591cc"/>
<rect x="251.80" y="1495.64" width="45.10" height="5.34" fill="#846fba"/>
<rect x="251.80" y="1500.58" width="45.10" height="6.33" fill="#525ab0"/>
<rect x="251.80" y="1506.51" width="45.10" height="8.31" fill="#675cb1"/>
<rect x="251.80" y="1514.42" width="45.10" height="10.29" fill="#846fba"/>
<rect x="251.80" y="1524.31" width="45.10" height="10.29" fill="#e6dff0"/>
<rect x="251.80" y="1534.20" width="45.10" height="4.35" fill="#a591cc"/>
<rect x="251.80" y="1538.15" width="45.10" height="6.33" fill="#675cb1"/>
<rect x="251.80" y="1544.08" width="45.10" height="5.32" fill="#846fba"/>
<rect x="251.80" y="1549.00" width="45.10" height="4.75" fill="#a591cc"/>
<rect x="251.80" y="1553.35" width="45.10" height="4.95" fill="#525ab0"/>
<rect x="251.80" y="1557.90" width="45.10" height="5.34" fill="#846fba"/>
<rect x="251.80" y="1562.84" width="45.10" height="4.75" fill="#675cb1"/>
<rect x="251.80" y="1567.19" width="45.10" height="5.94" fill="#7666b6"/>
<rect x="251.80" y="1572.73" width="45.10" height="4.35" fill="#c6b9de"/>
<rect x="251.80" y="1576.68" width="45.10" height="14.24" fill="#675cb1"/>
<rect x="251.80" y="1590.53" width="45.10" height="6.33" fill="#a591cc"/>
<rect x="251.80" y="1596.46" width="45.10" height="3.96" fill="#3d57ae"/>
<rect x="251.80" y="1600.02" width="45.10" height="10.68" fill="#846fba"/>
<rect x="251.80" y="1610.30" width="45.10" height="9.30" fill="#675cb1"/>
<rect x="251.80" y="1619.20" width="45.10" height="6.33" fill="#a591cc"/>
<rect x="251.80" y="1625.13" width="45.10" height="4.35" fill="#d6cce7"/>
<rect x="251.80" y="1629.08" width="45.10" height="5.32" fill="#9480c3"/>
<rect x="251.80" y="1634.00" width="45.10" height="8.71" fill="#9480c3"/>
<rect x="251.80" y="1642.31" width="45.10" height="5.94" fill="#3d57ae"/>
<rect x="251.80" y="1647.84" width="45.10" height="10.29" fill="#df2a2b"/>
<rect x="251.80" y="1657.73" width="45.10" height="4.35" fill="#f08060"/>
<rect x="251.80" y="1661.68" width="45.10" height="6.33" fill="#e8523c"/>
<rect x="251.80" y="1667.62" width="45.10" height="4.35" fill="#fbcebc"/>
<rect x="251.80" y="1671.57" width="45.10" height="5.34" fill="#f9b9a0"/>
<rect x="251.80" y="1676.51" width="45.10" height="5.34" fill="#df2a2b"/>
<rect x="251.80" y="1681.46" width="45.10" height="5.34" fill="#e8523c"/>
<rect x="251.80" y="1686.40" width="45.10" height="8.31" fill="#fde4d8"/>
<rect x="251.80" y="1694.31" width="45.10" height="6.33" fill="#e6dff0"/>
<rect x="251.80" y="1700.24" width="45.10" height="4.35" fill="#fbcebc"/>
<rect x="251.80" y="1704.20" width="45.10" height="6.33" fill="#df2a2b"/>
<rect x="251.80" y="1710.13" width="45.10" height="9.27" fill="#fbcebc"/>
<rect x="251.80" y="1719.00" width="45.10" height="10.29" fill="#c6b9de"/>
<rect x="251.80" y="1728.89" width="45.10" height="4.75" fill="#fde4d8"/>
<rect x="251.80" y="1733.24" width="45.10" height="5.94" fill="#f08060"/>
<rect x="251.80" y="1738.77" width="45.10" height="4.75" fill="#fde4d8"/>
<rect x="251.80" y="1743.12" width="45.10" height="5.94" fill="#f9b9a0"/>
<rect x="251.80" y="1748.66" width="45.10" height="4.35" fill="#f2eff8"/>
<rect x="251.80" y="1752.62" width="45.10" height="4.35" fill="#c6b9de"/>
<rect x="251.80" y="1756.57" width="45.10" height="5.34" fill="#7666b6"/>
<rect x="251.80" y="1761.51" width="45.10" height="10.29" fill="#846fba"/>
<rect x="251.80" y="1771.40" width="45.10" height="10.88" fill="#df2a2b"/>
<rect x="251.80" y="1781.88" width="45.10" height="3.76" fill="#f08060"/>
<rect x="251.80" y="1785.24" width="45.10" height="15.63" fill="#df2a2b"/>
<rect x="251.80" y="1800.47" width="45.10" height="4.35" fill="#ffffff"/>
<rect x="251.80" y="1804.42" width="45.10" height="3.78" fill="#df2a2b"/>
<rect x="296.50" y="1468.94" width="45.10" height="13.65" fill="#df2a2b"/>
<rect x="296.50" y="1482.19" width="45.10" height="13.85" fill="#fde4d8"/>
<rect x="296.50" y="1495.64" width="45.10" height="5.94" fill="#df2a2b"/>
<rect x="296.50" y="1501.18" width="45.10" height="4.75" fill="#a591cc"/>
<rect x="296.50" y="1505.53" width="45.10" height="6.33" fill="#b6a5d5"/>
<rect x="296.50" y="1511.46" width="45.10" height="3.96" fill="#c6b9de"/>
<rect x="296.50" y="1515.02" width="45.10" height="6.33" fill="#fbcab6"/>
<rect x="296.50" y="1520.95" width="45.10" height="4.35" fill="#c6b9de"/>
<rect x="296.50" y="1524.90" width="45.10" height="9.69" fill="#e6dff0"/>
<rect x="296.50" y="1534.20" width="45.10" height="4.35" fill="#f5f2f9"/>
<rect x="296.50" y="1538.15" width="45.10" height="6.33" fill="#a591cc"/>
<rect x="296.50" y="1544.08" width="45.10" height="4.35" fill="#ffffff"/>
<rect x="296.50" y="1548.04" width="45.10" height="1.36" fill="#c6b9de"/>
<rect x="296.50" y="1549.00" width="45.10" height="4.75" fill="#c6b9de"/>
<rect x="296.50" y="1553.35" width="45.10" height="4.95" fill="#ffffff"/>
<rect x="296.50" y="1557.90" width="45.10" height="5.34" fill="#c6b9de"/>
<rect x="296.50" y="1562.84" width="45.10" height="4.75" fill="#e6dff0"/>
<rect x="296.50" y="1567.19" width="45.10" height="5.94" fill="#fde4d8"/>
<rect x="296.50" y="1572.73" width="45.10" height="4.35" fill="#f08060"/>
<rect x="296.50" y="1576.68" width="45.10" height="4.35" fill="#fef2ec"/>
<rect x="296.50" y="1580.64" width="45.10" height="19.78" fill="#e6dff0"/>
<rect x="296.50" y="1600.02" width="45.10" height="5.74" fill="#d6cce7"/>
<rect x="296.50" y="1605.36" width="45.10" height="5.34" fill="#fde4d8"/>
<rect x="296.50" y="1610.30" width="45.10" height="5.34" fill="#fef4ef"/>
<rect x="296.50" y="1615.24" width="45.10" height="4.35" fill="#f08060"/>
<rect x="296.50" y="1619.20" width="45.10" height="6.33" fill="#fbcebc"/>
<rect x="296.50" y="1625.13" width="45.10" height="4.35" fill="#e6dff0"/>
<rect x="296.50" y="1629.08" width="45.10" height="5.32" fill="#f9b9a0"/>
<rect x="296.50" y="1634.00" width="45.10" height="4.75" fill="#fef2ec"/>
<rect x="296.50" y="1638.35" width="45.10" height="9.89" fill="#e43e34"/>
<rect x="296.50" y="1647.84" width="45.10" height="4.35" fill="#a591cc"/>
<rect x="296.50" y="1651.80" width="45.10" height="16.22" fill="#846fba"/>
<rect x="296.50" y="1667.62" width="45.10" height="4.35" fill="#c6b9de"/>
<rect x="296.50" y="1671.57" width="45.10" height="10.29" fill="#846fba"/>
<rect x="296.50" y="1681.46" width="45.10" height="9.30" fill="#675cb1"/>
<rect x="296.50" y="1690.36" width="45.10" height="4.35" fill="#a591cc"/>
<rect x="296.50" y="1694.31" width="45.10" height="6.33" fill="#525ab0"/>
<rect x="296.50" y="1700.24" width="45.10" height="10.29" fill="#b6a5d5"/>
<rect x="296.50" y="1710.13" width="45.10" height="4.35" fill="#fef2ec"/>
<rect x="296.50" y="1714.08" width="45.10" height="5.32" fill="#a591cc"/>
<rect x="296.50" y="1719.00" width="45.10" height="4.75" fill="#7666b6"/>
<rect x="296.50" y="1723.35" width="45.10" height="5.94" fill="#846fba"/>
<rect x="296.50" y="1728.89" width="45.10" height="4.75" fill="#675cb1"/>
<rect x="296.50" y="1733.24" width="45.10" height="5.94" fill="#f08060"/>
<rect x="296.50" y="1738.77" width="45.10" height="4.75" fill="#ec694e"/>
<rect x="296.50" y="1743.12" width="45.10" height="5.94" fill="#675cb1"/>
<rect x="296.50" y="1748.66" width="45.10" height="4.35" fill="#c6b9de"/>
<rect x="296.50" y="1752.62" width="45.10" height="5.34" fill="#ffffff"/>
<rect x="296.50" y="1757.56" width="45.10" height="5.34" fill="#fde4d8"/>
<rect x="296.50" y="1762.50" width="45.10" height="4.35" fill="#c6b9de"/>
<rect x="296.50" y="1766.46" width="45.10" height="5.34" fill="#675cb1"/>
<rect x="296.50" y="1771.40" width="45.10" height="5.34" fill="#846fba"/>
<rect x="296.50" y="1776.34" width="45.10" height="5.94" fill="#a591cc"/>
<rect x="296.50" y="1781.88" width="45.10" height="3.76" fill="#ffffff"/>
<rect x="296.50" y="1785.24" width="45.10" height="6.33" fill="#846fba"/>
<rect x="296.50" y="1791.18" width="45.10" height="4.35" fill="#b6a5d5"/>
<rect x="296.50" y="1795.13" width="45.10" height="5.74" fill="#846fba"/>
<rect x="296.50" y="1800.47" width="45.10" height="4.35" fill="#a591cc"/>
<rect x="296.50" y="1804.42" width="45.10" height="3.78" fill="#846fba"/>
<rect x="341.20" y="1468.94" width="45.10" height="3.76" fill="#f9b9a0"/>
<rect x="341.20" y="1472.31" width="45.10" height="3.96" fill="#f5f2f9"/>
<rect x="341.20" y="1475.86" width="45.10" height="6.73" fill="#a591cc"/>
<rect x="341.20" y="1482.19" width="45.10" height="19.38" fill="#df2a2b"/>
<rect x="341.20" y="1501.18" width="45.10" height="4.75" fill="#f9b9a0"/>
<rect x="341.20" y="1505.53" width="45.10" height="6.33" fill="#e8523c"/>
<rect x="341.20" y="1511.46" width="45.10" height="3.96" fill="#df2a2b"/>
<rect x="341.20" y="1515.02" width="45.10" height="9.69" fill="#ec694e"/>
<rect x="341.20" y="1524.31" width="45.10" height="4.35" fill="#df2a2b"/>
<rect x="341.20" y="1528.27" width="45.10" height="6.33" fill="#ec694e"/>
<rect x="341.20" y="1534.20" width="45.10" height="14.24" fill="#df2a2b"/>
<rect x="341.20" y="1548.04" width="45.10" height="1.36" fill="#e8523c"/>
<rect x="341.20" y="1549.00" width="45.10" height="4.75" fill="#e8523c"/>
<rect x="341.20" y="1553.35" width="45.10" height="14.24" fill="#df2a2b"/>
<rect x="341.20" y="1567.19" width="45.10" height="5.94" fill="#f9b9a0"/>
<rect x="341.20" y="1572.73" width="45.10" height="4.35" fill="#f49c80"/>
<rect x="341.20" y="1576.68" width="45.10" height="14.24" fill="#df2a2b"/>
<rect x="341.20" y="1590.53" width="45.10" height="6.33" fill="#f2eff8"/>
<rect x="341.20" y="1596.46" width="45.10" height="3.96" fill="#fde4d8"/>
<rect x="341.20" y="1600.02" width="45.10" height="5.74" fill="#f9b9a0"/>
<rect x="341.20" y="1605.36" width="45.10" height="4.35" fill="#fbcebc"/>
<rect x="341.20" y="1609.31" width="45.10" height="6.33" fill="#fef2ec"/>
<rect x="341.20" y="1615.24" width="45.10" height="4.35" fill="#f9b9a0"/>
<rect x="341.20" y="1619.20" width="45.10" height="6.33" fill="#f5f2f9"/>
<rect x="341.20" y="1625.13" width="45.10" height="9.27" fill="#675cb1"/>
<rect x="341.20" y="1634.00" width="45.10" height="4.75" fill="#846fba"/>
<rect x="341.20" y="1638.35" width="45.10" height="4.95" fill="#fde4d8"/>
<rect x="341.20" y="1642.90" width="45.10" height="9.30" fill="#a591cc"/>
<rect x="341.20" y="1651.80" width="45.10" height="6.33" fill="#df2a2b"/>
<rect x="341.20" y="1657.73" width="45.10" height="4.35" fill="#c6b9de"/>
<rect x="341.20" y="1661.68" width="45.10" height="6.33" fill="#a591cc"/>
<rect x="341.20" y="1667.62" width="45.10" height="4.35" fill="#c6b9de"/>
<rect x="341.20" y="1671.57" width="45.10" height="7.32" fill="#e6dff0"/>
<rect x="341.20" y="1678.49" width="45.10" height="3.37" fill="#c6b9de"/>
<rect x="341.20" y="1681.46" width="45.10" height="5.34" fill="#3d57ae"/>
<rect x="341.20" y="1686.40" width="45.10" height="8.31" fill="#a591cc"/>
<rect x="341.20" y="1694.31" width="45.10" height="6.33" fill="#7666b6"/>
<rect x="341.20" y="1700.24" width="45.10" height="4.35" fill="#f2eff8"/>
<rect x="341.20" y="1704.20" width="45.10" height="6.33" fill="#3d57ae"/>
<rect x="341.20" y="1710.13" width="45.10" height="9.27" fill="#675cb1"/>
<rect x="341.20" y="1719.00" width="45.10" height="14.64" fill="#3d57ae"/>
<rect x="341.20" y="1733.24" width="45.10" height="10.29" fill="#9480c3"/>
<rect x="341.20" y="1743.12" width="45.10" height="5.94" fill="#b6a5d5"/>
<rect x="341.20" y="1748.66" width="45.10" height="4.35" fill="#c6b9de"/>
<rect x="341.20" y="1752.62" width="45.10" height="10.29" fill="#a591cc"/>
<rect x="341.20" y="1762.50" width="45.10" height="4.35" fill="#846fba"/>
<rect x="341.20" y="1766.46" width="45.10" height="5.34" fill="#675cb1"/>
<rect x="341.20" y="1771.40" width="45.10" height="36.80" fill="#3d57ae"/>
<rect x="385.90" y="1468.94" width="45.10" height="13.65" fill="#df2a2b"/>
<rect x="385.90" y="1482.19" width="45.10" height="3.96" fill="#846fba"/>
<rect x="385.90" y="1485.75" width="45.10" height="10.29" fill="#675cb1"/>
<rect x="385.90" y="1495.64" width="45.10" height="10.29" fill="#f9b9a0"/>
<rect x="385.90" y="1505.53" width="45.10" height="6.33" fill="#ffffff"/>
<rect x="385.90" y="1511.46" width="45.10" height="3.96" fill="#f08060"/>
<rect x="385.90" y="1515.02" width="45.10" height="6.33" fill="#fbcab6"/>
<rect x="385.90" y="1520.95" width="45.10" height="7.72" fill="#f49c80"/>
<rect x="385.90" y="1528.27" width="45.10" height="21.13" fill="#df2a2b"/>
<rect x="385.90" y="1549.00" width="45.10" height="18.59" fill="#df2a2b"/>
<rect x="385.90" y="1567.19" width="45.10" height="5.94" fill="#f9b9a0"/>
<rect x="385.90" y="1572.73" width="45.10" height="4.35" fill="#e6dff0"/>
<rect x="385.90" y="1576.68" width="45.10" height="4.35" fill="#df2a2b"/>
<rect x="385.90" y="1580.64" width="45.10" height="5.94" fill="#c6b9de"/>
<rect x="385.90" y="1586.18" width="45.10" height="4.75" fill="#ffffff"/>
<rect x="385.90" y="1590.53" width="45.10" height="6.33" fill="#fde4d8"/>
<rect x="385.90" y="1596.46" width="45.10" height="9.30" fill="#f5f2f9"/>
<rect x="385.90" y="1605.36" width="45.10" height="4.35" fill="#c6b9de"/>
<rect x="385.90" y="1609.31" width="45.10" height="6.33" fill="#f9b9a0"/>
<rect x="385.90" y="1615.24" width="45.10" height="4.35" fill="#fbcebc"/>
<rect x="385.90" y="1619.20" width="45.10" height="6.33" fill="#a591cc"/>
<rect x="385.90" y="1625.13" width="45.10" height="4.35" fill="#df2a2b"/>
<rect x="385.90" y="1629.08" width="45.10" height="5.32" fill="#e8523c"/>
<rect x="385.90" y="1634.00" width="45.10" height="14.24" fill="#df2a2b"/>
<rect x="385.90" y="1647.84" width="45.10" height="14.24" fill="#3d57ae"/>
<rect x="385.90" y="1661.68" width="45.10" height="6.33" fill="#f9b9a0"/>
<rect x="385.90" y="1667.62" width="45.10" height="4.35" fill="#ffffff"/>
<rect x="385.90" y="1671.57" width="45.10" height="5.34" fill="#f49c80"/>
<rect x="385.90" y="1676.51" width="45.10" height="15.23" fill="#3d57ae"/>
<rect x="385.90" y="1691.34" width="45.10" height="13.25" fill="#675cb1"/>
<rect x="385.90" y="1704.20" width="45.10" height="10.29" fill="#3d57ae"/>
<rect x="385.90" y="1714.08" width="45.10" height="5.32" fill="#b6a5d5"/>
<rect x="385.90" y="1719.00" width="45.10" height="4.75" fill="#3d57ae"/>
<rect x="385.90" y="1723.35" width="45.10" height="5.94" fill="#7666b6"/>
<rect x="385.90" y="1728.89" width="45.10" height="4.75" fill="#3d57ae"/>
<rect x="385.90" y="1733.24" width="45.10" height="5.94" fill="#846fba"/>
<rect x="385.90" y="1738.77" width="45.10" height="4.75" fill="#ffffff"/>
<rect x="385.90" y="1743.12" width="45.10" height="5.94" fill="#a591cc"/>
<rect x="385.90" y="1748.66" width="45.10" height="8.31" fill="#ffffff"/>
<rect x="385.90" y="1756.57" width="45.10" height="15.23" fill="#e6dff0"/>
<rect x="385.90" y="1771.40" width="45.10" height="10.88" fill="#3d57ae"/>
<rect x="385.90" y="1781.88" width="45.10" height="3.76" fill="#846fba"/>
<rect x="385.90" y="1785.24" width="45.10" height="22.96" fill="#3d57ae"/>
<rect x="430.60" y="1468.94" width="45.10" height="3.76" fill="#c6b9de"/>
<rect x="430.60" y="1472.31" width="45.10" height="3.96" fill="#fef4ef"/>
<rect x="430.60" y="1475.86" width="45.10" height="6.73" fill="#fde4d8"/>
<rect x="430.60" y="1482.19" width="45.10" height="3.96" fill="#ffffff"/>
<rect x="430.60" y="1485.75" width="45.10" height="6.33" fill="#f9b9a0"/>
<rect x="430.60" y="1491.68" width="45.10" height="4.35" fill="#675cb1"/>
<rect x="430.60" y="1495.64" width="45.10" height="5.94" fill="#e6dff0"/>
<rect x="430.60" y="1501.18" width="45.10" height="4.75" fill="#fbcab6"/>
<rect x="430.60" y="1505.53" width="45.10" height="6.33" fill="#a591cc"/>
<rect x="430.60" y="1511.46" width="45.10" height="3.96" fill="#e6dff0"/>
<rect x="430.60" y="1515.02" width="45.10" height="6.33" fill="#ffffff"/>
<rect x="430.60" y="1520.95" width="45.10" height="4.35" fill="#a591cc"/>
<rect x="430.60" y="1524.90" width="45.10" height="9.69" fill="#f08060"/>
<rect x="430.60" y="1534.20" width="45.10" height="4.35" fill="#675cb1"/>
<rect x="430.60" y="1538.15" width="45.10" height="6.33" fill="#e6dff0"/>
<rect x="430.60" y="1544.08" width="45.10" height="4.35" fill="#df2a2b"/>
<rect x="430.60" y="1548.04" width="45.10" height="1.36" fill="#eb644a"/>
<rect x="430.60" y="1549.00" width="45.10" height="4.75" fill="#ec694e"/>
<rect x="430.60" y="1553.35" width="45.10" height="4.95" fill="#fde4d8"/>
<rect x="430.60" y="1557.90" width="45.10" height="5.34" fill="#df2a2b"/>
<rect x="430.60" y="1562.84" width="45.10" height="4.75" fill="#f9b9a0"/>
<rect x="430.60" y="1567.19" width="45.10" height="23.73" fill="#df2a2b"/>
<rect x="430.60" y="1590.53" width="45.10" height="6.33" fill="#f9b9a0"/>
<rect x="430.60" y="1596.46" width="45.10" height="19.19" fill="#df2a2b"/>
<rect x="430.60" y="1615.24" width="45.10" height="4.35" fill="#f08060"/>
<rect x="430.60" y="1619.20" width="45.10" height="6.33" fill="#e8523c"/>
<rect x="430.60" y="1625.13" width="45.10" height="4.35" fill="#df2a2b"/>
<rect x="430.60" y="1629.08" width="45.10" height="5.32" fill="#fde4d8"/>
<rect x="430.60" y="1634.00" width="45.10" height="4.75" fill="#f9b9a0"/>
<rect x="430.60" y="1638.35" width="45.10" height="4.95" fill="#fde4d8"/>
<rect x="430.60" y="1642.90" width="45.10" height="5.34" fill="#df2a2b"/>
<rect x="430.60" y="1647.84" width="45.10" height="14.24" fill="#3d57ae"/>
<rect x="430.60" y="1661.68" width="45.10" height="5.34" fill="#a591cc"/>
<rect x="430.60" y="1666.63" width="45.10" height="5.34" fill="#9480c3"/>
<rect x="430.60" y="1671.57" width="45.10" height="5.34" fill="#846fba"/>
<rect x="430.60" y="1676.51" width="45.10" height="5.34" fill="#675cb1"/>
<rect x="430.60" y="1681.46" width="45.10" height="23.14" fill="#3d57ae"/>
<rect x="430.60" y="1704.20" width="45.10" height="10.29" fill="#fde4d8"/>
<rect x="430.60" y="1714.08" width="45.10" height="5.32" fill="#f2eff8"/>
<rect x="430.60" y="1719.00" width="45.10" height="4.75" fill="#7666b6"/>
<rect x="430.60" y="1723.35" width="45.10" height="5.94" fill="#846fba"/>
<rect x="430.60" y="1728.89" width="45.10" height="4.75" fill="#525ab0"/>
<rect x="430.60" y="1733.24" width="45.10" height="5.94" fill="#c6b9de"/>
<rect x="430.60" y="1738.77" width="45.10" height="4.75" fill="#ffffff"/>
<rect x="430.60" y="1743.12" width="45.10" height="5.94" fill="#846fba"/>
<rect x="430.60" y="1748.66" width="45.10" height="8.31" fill="#7666b6"/>
<rect x="430.60" y="1756.57" width="45.10" height="6.33" fill="#3d57ae"/>
<rect x="430.60" y="1762.50" width="45.10" height="9.30" fill="#675cb1"/>
<rect x="430.60" y="1771.40" width="45.10" height="5.34" fill="#3d57ae"/>
<rect x="430.60" y="1776.34" width="45.10" height="5.94" fill="#846fba"/>
<rect x="430.60" y="1781.88" width="45.10" height="3.76" fill="#e6dff0"/>
<rect x="430.60" y="1785.24" width="45.10" height="15.63" fill="#3d57ae"/>
<rect x="430.60" y="1800.47" width="45.10" height="4.35" fill="#a591cc"/>
<rect x="430.60" y="1804.42" width="45.10" height="3.78" fill="#3d57ae"/>
<rect x="475.30" y="1468.94" width="45.10" height="3.76" fill="#e8523c"/>
<rect x="475.30" y="1472.31" width="45.10" height="3.96" fill="#f5f2f9"/>
<rect x="475.30" y="1475.86" width="45.10" height="6.73" fill="#fde4d8"/>
<rect x="475.30" y="1482.19" width="45.10" height="13.85" fill="#675cb1"/>
<rect x="475.30" y="1495.64" width="45.10" height="5.94" fill="#e8523c"/>
<rect x="475.30" y="1501.18" width="45.10" height="4.75" fill="#ffffff"/>
<rect x="475.30" y="1505.53" width="45.10" height="6.33" fill="#e6dff0"/>
<rect x="475.30" y="1511.46" width="45.10" height="3.96" fill="#b6a5d5"/>
<rect x="475.30" y="1515.02" width="45.10" height="6.33" fill="#ffffff"/>
<rect x="475.30" y="1520.95" width="45.10" height="4.35" fill="#c6b9de"/>
<rect x="475.30" y="1524.90" width="45.10" height="9.69" fill="#ffffff"/>
<rect x="475.30" y="1534.20" width="45.10" height="4.35" fill="#c6b9de"/>
<rect x="475.30" y="1538.15" width="45.10" height="6.33" fill="#f49c80"/>
<rect x="475.30" y="1544.08" width="45.10" height="5.32" fill="#df2a2b"/>
<rect x="475.30" y="1549.00" width="45.10" height="14.24" fill="#df2a2b"/>
<rect x="475.30" y="1562.84" width="45.10" height="4.75" fill="#f49c80"/>
<rect x="475.30" y="1567.19" width="45.10" height="29.67" fill="#df2a2b"/>
<rect x="475.30" y="1596.46" width="45.10" height="9.30" fill="#f49c80"/>
<rect x="475.30" y="1605.36" width="45.10" height="5.34" fill="#f9b9a0"/>
<rect x="475.30" y="1610.30" width="45.10" height="5.34" fill="#ec694e"/>
<rect x="475.30" y="1615.24" width="45.10" height="4.35" fill="#f9b9a0"/>
<rect x="475.30" y="1619.20" width="45.10" height="6.33" fill="#fde4d8"/>
<rect x="475.30" y="1625.13" width="45.10" height="4.35" fill="#f08060"/>
<rect x="475.30" y="1629.08" width="45.10" height="5.32" fill="#f49c80"/>
<rect x="475.30" y="1634.00" width="45.10" height="4.75" fill="#e8523c"/>
<rect x="475.30" y="1638.35" width="45.10" height="4.95" fill="#fde4d8"/>
<rect x="475.30" y="1642.90" width="45.10" height="5.34" fill="#f08060"/>
<rect x="475.30" y="1647.84" width="45.10" height="14.24" fill="#3d57ae"/>
<rect x="475.30" y="1661.68" width="45.10" height="5.34" fill="#c6b9de"/>
<rect x="475.30" y="1666.63" width="45.10" height="10.29" fill="#e6dff0"/>
<rect x="475.30" y="1676.51" width="45.10" height="5.34" fill="#675cb1"/>
<rect x="475.30" y="1681.46" width="45.10" height="13.25" fill="#3d57ae"/>
<rect x="475.30" y="1694.31" width="45.10" height="6.33" fill="#7666b6"/>
<rect x="475.30" y="1700.24" width="45.10" height="4.35" fill="#3d57ae"/>
<rect x="475.30" y="1704.20" width="45.10" height="5.34" fill="#e8523c"/>
<rect x="475.30" y="1709.14" width="45.10" height="10.26" fill="#df2a2b"/>
<rect x="475.30" y="1719.00" width="45.10" height="1.98" fill="#df2a2b"/>
<rect x="475.30" y="1720.58" width="45.10" height="3.17" fill="#675cb1"/>
<rect x="475.30" y="1723.35" width="45.10" height="5.94" fill="#a591cc"/>
<rect x="475.30" y="1728.89" width="45.10" height="4.75" fill="#675cb1"/>
<rect x="475.30" y="1733.24" width="45.10" height="5.94" fill="#fde4d8"/>
<rect x="475.30" y="1738.77" width="45.10" height="4.75" fill="#df2a2b"/>
<rect x="475.30" y="1743.12" width="45.10" height="5.94" fill="#fde4d8"/>
<rect x="475.30" y="1748.66" width="45.10" height="8.31" fill="#a591cc"/>
<rect x="475.30" y="1756.57" width="45.10" height="6.33" fill="#846fba"/>
<rect x="475.30" y="1762.50" width="45.10" height="4.35" fill="#9480c3"/>
<rect x="475.30" y="1766.46" width="45.10" height="5.34" fill="#675cb1"/>
<rect x="475.30" y="1771.40" width="45.10" height="5.34" fill="#3d57ae"/>
<rect x="475.30" y="1776.34" width="45.10" height="5.94" fill="#a591cc"/>
<rect x="475.30" y="1781.88" width="45.10" height="3.76" fill="#675cb1"/>
<rect x="475.30" y="1785.24" width="45.10" height="15.63" fill="#3d57ae"/>
<rect x="475.30" y="1800.47" width="45.10" height="4.35" fill="#675cb1"/>
<rect x="475.30" y="1804.42" width="45.10" height="3.78" fill="#3d57ae"/>
</g>
<rect x="530.3" y="1468.5" width="6" height="181" fill="#df2a2c"/>
<rect x="530.3" y="1649.5" width="6" height="160.5" fill="#1a1a1a"/>
<defs><linearGradient id="cb" x1="0" y1="0" x2="0" y2="1">
<stop offset="0" stop-color="#df2b2a"/>
<stop offset="0.061" stop-color="#e5503c"/>
<stop offset="0.169" stop-color="#ec7258"/>
<stop offset="0.278" stop-color="#f3977e"/>
<stop offset="0.387" stop-color="#fbcdbd"/>
<stop offset="0.495" stop-color="#ffffff"/>
<stop offset="0.602" stop-color="#cfc2e2"/>
<stop offset="0.71" stop-color="#9883c4"/>
<stop offset="0.818" stop-color="#6f60b3"/>
<stop offset="0.927" stop-color="#4c51ac"/>
<stop offset="1" stop-color="#3d5eb2"/>
</linearGradient></defs>
<rect x="561.6" y="1511.2" width="35.3" height="162.89999999999986" fill="url(#cb)"/>
<g stroke="#fff" stroke-width="1.8">
<path d="M561.6,1521.2 h8.5 M596.9,1521.2 h-8.5"/>
<path d="M561.6,1556.5 h8.5 M596.9,1556.5 h-8.5"/>
<path d="M561.6,1591.8 h8.5 M596.9,1591.8 h-8.5"/>
<path d="M561.6,1627.1 h8.5 M596.9,1627.1 h-8.5"/>
<path d="M561.6,1662.4 h8.5 M596.9,1662.4 h-8.5"/>
</g>
<text x="606.5" y="1528.1000000000001" font-size="27.6" fill="#111" >1</text>
<text x="606.5" y="1563.4" font-size="27.6" fill="#111" >0.5</text>
<text x="606.5" y="1598.7" font-size="27.6" fill="#111" >0</text>
<text x="607.2" y="1634.0" font-size="27.6" fill="#111" >−0.5</text>
<text x="607.2" y="1669.3" font-size="27.6" fill="#111" >−1</text>
<text x="559.5" y="1493" font-size="33.9" fill="#111" >z−score</text>
<text x="557.6" y="1729.8" font-size="34.3" fill="#111" >Genotype</text>
<rect x="564.6" y="1754.3" width="25" height="25" fill="#1a1a1a"/>
<rect x="564.6" y="1790" width="25" height="25" fill="#df2a2c"/>
<text x="602" y="1777.8" font-size="27.5" fill="#111" ><tspan font-style="italic">Grn</tspan> WT</text>
<text x="602" y="1813.7" font-size="27.5" fill="#111" ><tspan font-style="italic">Grn</tspan> KO</text>
<text transform="translate(57.2,1840.8) rotate(-60)" font-size="28" text-anchor="end" fill="#111">Ifngr1</text>
<text transform="translate(103.0,1840.8) rotate(-60)" font-size="28" text-anchor="end" fill="#111">IL16</text>
<text transform="translate(148.8,1840.8) rotate(-60)" font-size="28" text-anchor="end" fill="#111">Il10ra</text>
<text transform="translate(194.6,1840.8) rotate(-60)" font-size="28" text-anchor="end" fill="#111">Iba1</text>
<text transform="translate(240.4,1840.8) rotate(-60)" font-size="28" text-anchor="end" fill="#111">Csf1r</text>
<text transform="translate(286.2,1840.8) rotate(-60)" font-size="28" text-anchor="end" fill="#111">Tgfbr1</text>
<text transform="translate(332.0,1840.8) rotate(-60)" font-size="28" text-anchor="end" fill="#111">IL-1a</text>
<text transform="translate(377.8,1840.8) rotate(-60)" font-size="28" text-anchor="end" fill="#111">Ctsd</text>
<text transform="translate(423.6,1840.8) rotate(-60)" font-size="28" text-anchor="end" fill="#111">Ccl4</text>
<text transform="translate(469.4,1840.8) rotate(-60)" font-size="28" text-anchor="end" fill="#111">Ccl3</text>
<text transform="translate(515.2,1840.8) rotate(-60)" font-size="28" text-anchor="end" fill="#111">Ccl2</text>
<g id="dend" stroke="#000" stroke-width="2" fill="none" stroke-linecap="butt" stroke-linejoin="miter">
<path stroke-width="2.1" d="M23.2,1470.59H27.4M23.2,1473.98H27.4M23.2,1477.37H27.4M23.2,1480.76H27.4M23.2,1484.15H27.4M23.2,1487.54H27.4M23.2,1490.93H27.4M23.2,1494.32H27.4M23.2,1497.71H27.4M23.2,1501.10H27.4M23.2,1504.48H27.4M23.2,1507.87H27.4M23.2,1511.26H27.4M23.2,1514.65H27.4M23.2,1518.04H27.4M23.2,1521.43H27.4M23.2,1524.82H27.4M23.2,1528.21H27.4M23.2,1531.60H27.4M23.2,1534.99H27.4M23.2,1538.37H27.4M23.2,1541.76H27.4M23.2,1545.15H27.4M23.2,1548.54H27.4M23.2,1551.93H27.4M23.2,1555.32H27.4M23.2,1558.71H27.4M23.2,1562.10H27.4M23.2,1565.49H27.4M23.2,1568.88H27.4M23.2,1572.26H27.4M23.2,1575.65H27.4M23.2,1579.04H27.4M23.2,1582.43H27.4M23.2,1585.82H27.4M23.2,1589.21H27.4M23.2,1592.60H27.4M23.2,1595.99H27.4M23.2,1599.38H27.4M23.2,1602.77H27.4M23.2,1606.15H27.4M23.2,1609.54H27.4M23.2,1612.93H27.4M23.2,1616.32H27.4M23.2,1619.71H27.4M23.2,1623.10H27.4M23.2,1626.49H27.4M23.2,1629.88H27.4M23.2,1633.27H27.4M23.2,1636.66H27.4M23.2,1640.04H27.4M23.2,1643.43H27.4M23.2,1646.82H27.4M23.2,1650.21H27.4M23.2,1653.60H27.4M23.2,1656.99H27.4M23.2,1660.38H27.4M23.2,1663.77H27.4M23.2,1667.16H27.4M23.2,1670.55H27.4M23.2,1673.93H27.4M23.2,1677.32H27.4M23.2,1680.71H27.4M23.2,1684.10H27.4M23.2,1687.49H27.4M23.2,1690.88H27.4M23.2,1694.27H27.4M23.2,1697.66H27.4M23.2,1701.05H27.4M23.2,1704.44H27.4M23.2,1707.82H27.4M23.2,1711.21H27.4M23.2,1714.60H27.4M23.2,1717.99H27.4M23.2,1721.38H27.4M23.2,1724.77H27.4M23.2,1728.16H27.4M23.2,1731.55H27.4M23.2,1734.94H27.4M23.2,1738.33H27.4M23.2,1741.71H27.4M23.2,1745.10H27.4M23.2,1748.49H27.4M23.2,1751.88H27.4M23.2,1755.27H27.4M23.2,1758.66H27.4M23.2,1762.05H27.4M23.2,1765.44H27.4M23.2,1768.83H27.4M23.2,1772.22H27.4M23.2,1775.60H27.4M23.2,1778.99H27.4M23.2,1782.38H27.4M23.2,1785.77H27.4M23.2,1789.16H27.4M23.2,1792.55H27.4M23.2,1795.94H27.4M23.2,1799.33H27.4M23.2,1802.72H27.4M23.2,1806.11H27.4"/>
<path d="M3.8,1738.1 V1509.4 H14.8 M14.8,1474.1 V1546.2 M13.8,1474.1 H23.2 M23.4,1469.6 V1481.6 M13.8,1546.2 H18.6 M18.6,1499.6 V1591.9 M17.6,1499.6 H21 M21,1487.5 V1513 M20,1487.5 H23.5 M23.5,1484 V1496 M17.6,1591.9 H20.5 M20.5,1554 V1619 M19.5,1554 H22 M19.5,1619 H21.5 M21.5,1597 V1648"/>
<path d="M2.8,1738.1 H12.2 M12.2,1694.3 V1781.9 M11.2,1694.3 H18.4 M18.4,1665.1 V1723.5 M17.4,1665.1 H21 M21,1652 V1680 M17.4,1723.5 H20.5 M20.5,1706 V1745 M11.2,1781.9 H17 M17,1774.4 V1789.5 M16,1774.4 H27.4 M16,1789.5 H19.5 M19.5,1782 V1797 M18.5,1797 H21.5 M21.5,1790 V1805.5"/>
<path stroke-width="2.4" d="M23.4,1486 V1543 M23.4,1549 V1590 M23.4,1595 V1633 M23.4,1639 V1647 M23.4,1652 V1700 M23.4,1705 V1771 M23.4,1778 V1806.5"/>
<path stroke-width="1.6" d="M21.2,1512 L23.4,1541 M21.6,1556 L23,1588 M20.8,1600 L22.8,1630 M21.2,1668 L23.2,1698 M20.6,1724 L23.2,1769 M22,1660 V1690 M22,1715 V1740 M22,1560 V1580 M22,1603 V1640"/>
</g>
</svg>
</body></html>
